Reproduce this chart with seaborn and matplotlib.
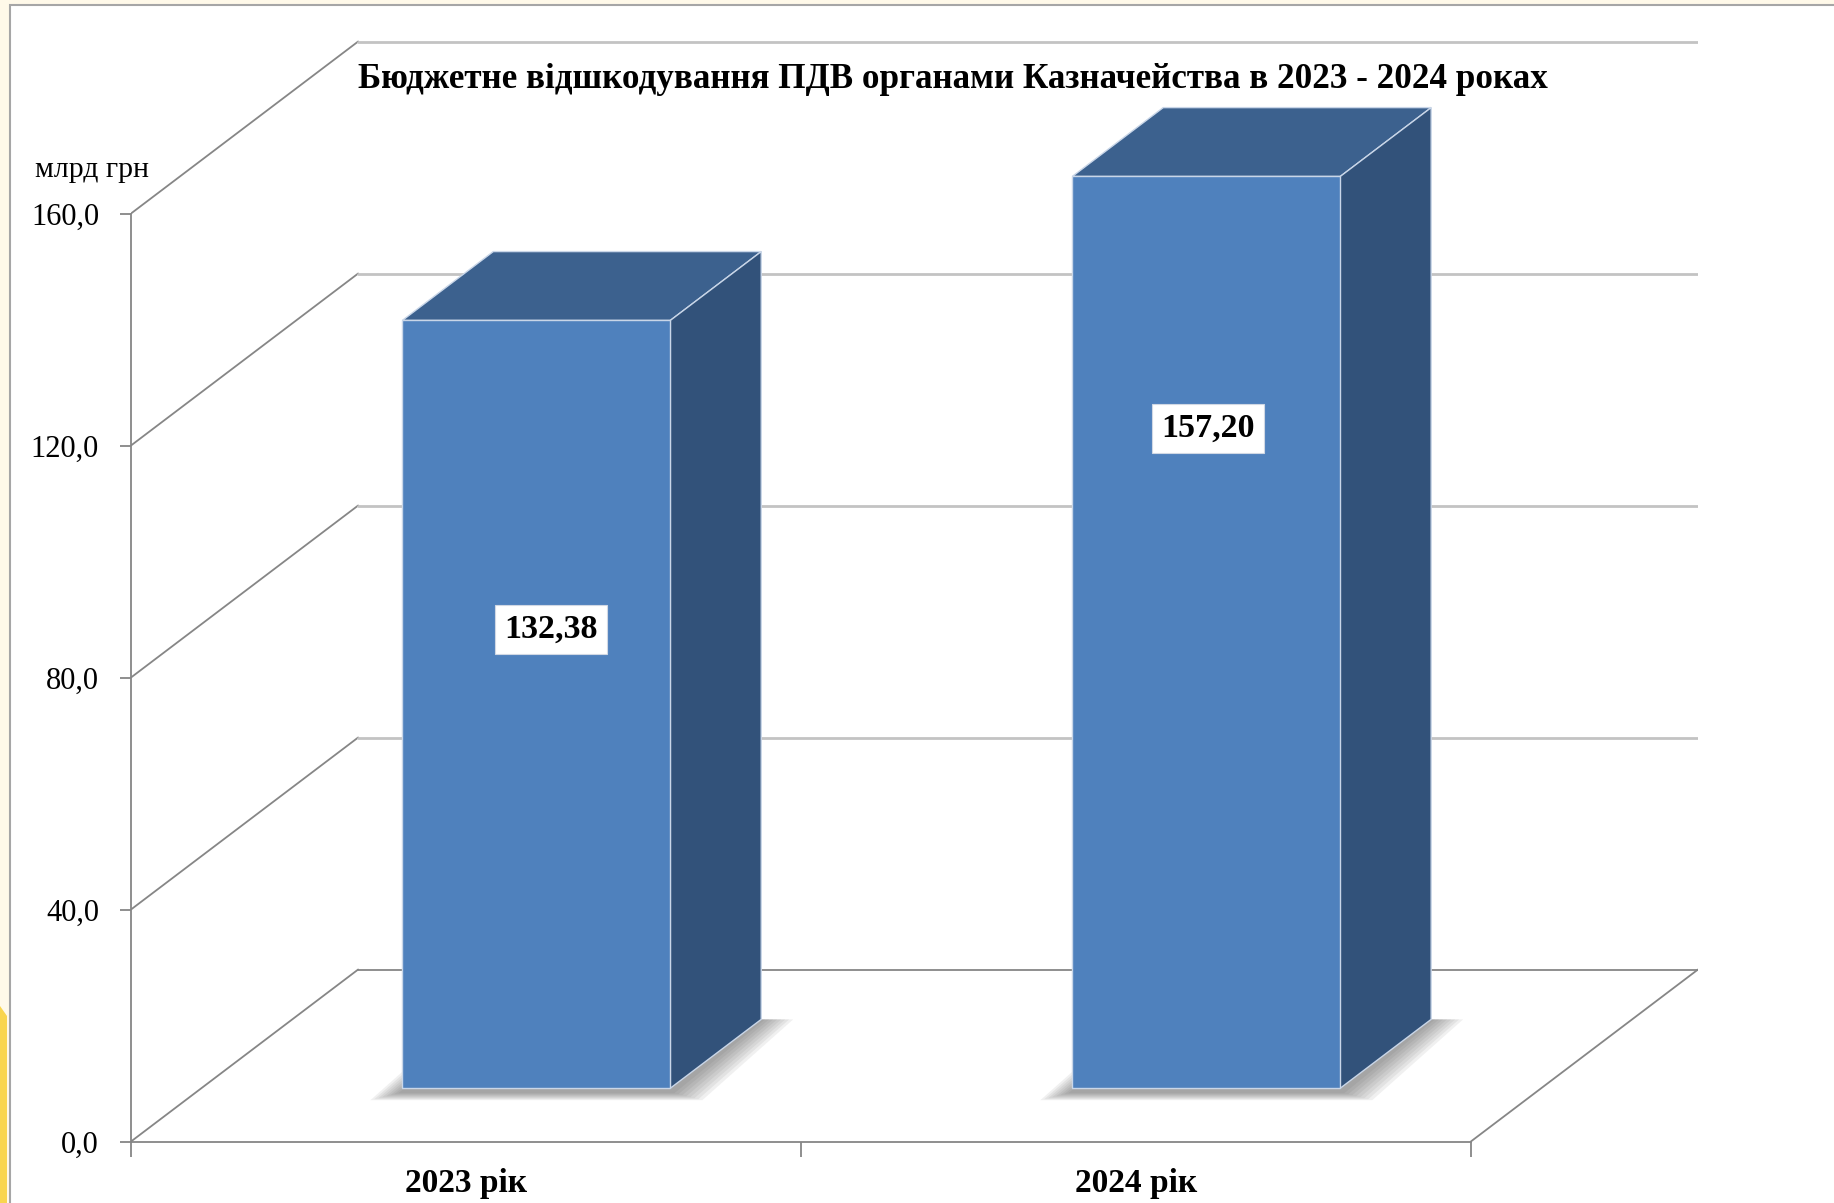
import matplotlib
matplotlib.use('Agg')
import matplotlib.pyplot as plt
import seaborn as sns
import pandas as pd
from matplotlib.patches import Polygon, Rectangle

# data
years = ['2023 рік', '2024 рік']
values = [132.38, 157.20]
value_labels = ['132,38', '157,20']
y_ticks = [0, 40, 80, 120, 160]
y_tick_labels = ['0,0', '40,0', '80,0', '120,0', '160,0']
title = 'Бюджетне відшкодування ПДВ органами Казначейства в 2023 - 2024 роках'
unit = 'млрд грн'

sns.set_theme(style='white')
plt.rcParams['font.family'] = ['Liberation Serif', 'DejaVu Serif']

W, H = 1834, 1203
fig = plt.figure(figsize=(W / 100, H / 100), dpi=100, facecolor='#FFF9E9')

# white slide frame + yellow strip on the left edge
fig.patches.append(Rectangle((10 / W, -0.1), 1, 1.1 - 5 / H, transform=fig.transFigure,
                             facecolor='white', edgecolor='#A6A6A6', lw=1.5, zorder=-2))
fig.patches.append(Polygon([[0, 0], [7 / W, 0], [7 / W, (H - 1016) / H], [0, (H - 1006) / H]],
                           closed=True, transform=fig.transFigure,
                           facecolor='#F9D54E', edgecolor='none', zorder=-1))

# fake 3d: depth shift of the back wall in data units
PXU = 5.80            # pixels per value unit
DX = 227 / 669.5
DY = 172 / PXU
f0, depth = 0.31, 0.40
front_c, top_c, side_c, edge_c = '#4F81BD', '#3C618E', '#32527A', '#C9D6E8'
line_c, grid_c = '#868686', '#C3C3C3'

ax = fig.add_axes([131 / W, (H - 1141.5) / H, (1698 - 131) / W, (1141.5 - 36) / H])

df = pd.DataFrame({'year': years, 'value': values})
sns.barplot(data=df, x='year', y='value', width=0.4, color=front_c, saturation=1,
            edgecolor=edge_c, linewidth=1, ax=ax, zorder=5)

ax.set_xlim(-0.5, 1.5 + DX)
ax.set_ylim(0, 1105.5 / PXU)
ax.patch.set_alpha(0)
ax.set_xlabel('')
ax.set_ylabel('')

# walls and floor
for v in y_ticks:
    ax.plot([-0.5, -0.5 + DX], [v, v + DY], color=line_c, lw=1.3, zorder=1)
for v in y_ticks[1:]:
    ax.plot([-0.5 + DX, 1.5 + DX], [v + DY, v + DY], color=grid_c, lw=2, zorder=1)
ax.plot([-0.5 + DX, 1.5 + DX], [DY, DY], color=line_c, lw=1.3, zorder=1)
ax.plot([1.5, 1.5 + DX], [0, DY], color=line_c, lw=1.3, zorder=1)

# move the seaborn bars into the middle of the floor and add top/side faces
px_x, px_y = 1 / 669.5, 1 / PXU
bars = list(ax.patches)
for bar in bars:
    bar.set_x(bar.get_x() + f0 * DX)
    bar.set_y(f0 * DY)
    x0 = bar.get_x()
    x1 = x0 + bar.get_width()
    yb = bar.get_y()
    yt = yb + bar.get_height()
    ddx, ddy = depth * DX, depth * DY

    # soft shadow on the floor
    n = 8
    for k in range(n):
        ex = 32 * (1 - k / n) * px_x
        ey = 8 * (1 - k / n) * px_y
        ax.add_patch(Polygon([[x0 - ex, yb - ey - 4 * px_y], [x1 + ex, yb - ey - 4 * px_y],
                              [x1 + ddx + ex, yb + ddy], [x0 + ddx - ex, yb + ddy]],
                             closed=True, facecolor='#4A4A4A', edgecolor='none',
                             alpha=0.08, zorder=2))

    ax.add_patch(Polygon([[x0, yt], [x1, yt], [x1 + ddx, yt + ddy], [x0 + ddx, yt + ddy]],
                         closed=True, facecolor=top_c, edgecolor=edge_c, lw=1, zorder=4))
    ax.add_patch(Polygon([[x1, yb], [x1 + ddx, yb + ddy], [x1 + ddx, yt + ddy], [x1, yt]],
                         closed=True, facecolor=side_c, edgecolor=edge_c, lw=1, zorder=4))

# value labels (placed where Excel put them)
label_y = [88.3, 122.9]
label_dx = [0.022, 0.003]
for bar, lab, ly, ldx in zip(bars, value_labels, label_y, label_dx):
    cx = bar.get_x() + bar.get_width() / 2 + ldx
    ax.text(cx, ly, lab, ha='center', va='center', fontsize=24.5, fontweight='bold',
            color='black', zorder=10,
            bbox=dict(boxstyle='square,pad=0.27', facecolor='white', edgecolor='#D0D8E4', lw=0.8))

# axes
sns.despine(ax=ax, top=True, right=True)
ax.spines['left'].set_bounds(0, 160)
ax.spines['bottom'].set_bounds(-0.5, 1.5)
for s in ['left', 'bottom']:
    ax.spines[s].set_color(line_c)
    ax.spines[s].set_linewidth(1.3)
    ax.spines[s].set_zorder(3)

ax.set_yticks(y_ticks, y_tick_labels)
ax.tick_params(axis='y', left=True, length=8, width=1.3, color=line_c, pad=15,
               labelsize=22, labelcolor='black')
ax.set_xticks([0, 1], years)
ax.set_xticks([-0.5, 0.5, 1.5], minor=True)
ax.tick_params(axis='x', which='major', bottom=False, length=0, pad=19, labelsize=24,
               labelcolor='black')
ax.tick_params(axis='x', which='minor', bottom=True, length=11, width=1.3, color=line_c)
for lab in ax.get_xticklabels():
    lab.set_fontweight('bold')

fig.text(953 / W, 1 - 79 / H, title, ha='center', va='center', fontsize=25.3,
         fontweight='bold', color='black')
fig.text(35 / W, 1 - 170 / H, unit, ha='left', va='center', fontsize=21.5, color='black')

plt.savefig('out.png', dpi=100, facecolor=fig.get_facecolor())
